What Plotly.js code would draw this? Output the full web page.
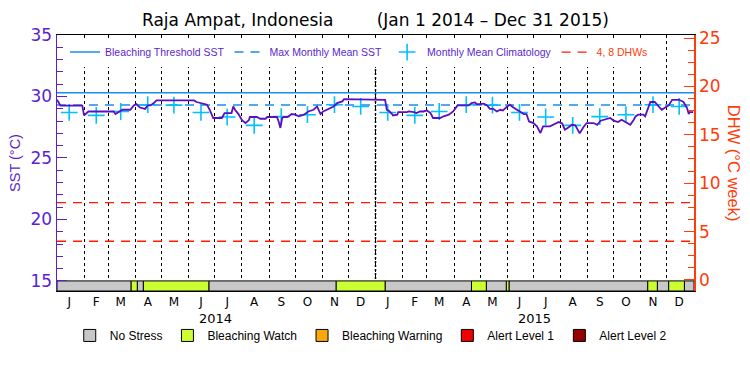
<!DOCTYPE html>
<html><head><meta charset="utf-8">
<script src="https://cdn.plot.ly/plotly-3.0.1.min.js"></script>
<style>html,body{margin:0;padding:0;background:#fff}#chart{width:750px;height:375px}</style>
</head><body><div id="chart"></div>
<script>
// ---------- DATA ----------
const monthLetters = ['J','F','M','A','M','J','J','A','S','O','N','D'];
const years = [2014, 2015];
const climatology = [28.70,28.46,28.78,29.33,29.30,28.70,28.33,27.65,28.36,28.52,29.33,29.19];
const mmm = 29.30;
const bleachingThreshold = 30.30;
const dhwLevels = [4, 8];
// day offset from 2014-01-01
const sstDay = [0,4,29,31,36,65,67,69,72,75,84,88,91,95,101,104,107,111,114,157,160,172,175,177,179,189,192,200,202,204,208,212,216,220,221,229,233,239,241,252,254,256,258,260,264,269,273,277,283,288,294,298,302,305,309,313,317,321,327,329,349,351,376,378,380,384,385,390,391,401,403,409,412,416,420,424,428,431,439,443,449,454,459,472,475,479,481,485,489,493,496,500,504,508,511,516,519,523,527,531,535,538,541,546,550,554,557,565,569,575,579,582,586,590,594,596,599,603,607,615,619,623,628,634,638,643,647,651,657,661,663,666,672,674,678,680,685,689,693,697,701,705,713,718,722,724,725,729];
const sst = [29.73,29.25,29.25,28.46,28.78,28.78,28.57,28.65,28.78,28.92,28.92,29.27,29.38,29.10,28.99,29.27,29.27,29.46,29.68,29.68,29.55,29.33,28.92,28.57,28.25,28.25,28.65,28.65,29.19,28.92,28.57,28.08,27.84,28.08,28.33,28.33,28.19,28.19,28.33,28.33,27.97,27.44,28.25,28.33,28.33,28.57,28.52,28.39,28.52,28.78,28.92,29.19,28.57,28.78,28.92,29.06,29.19,29.46,29.60,29.79,29.79,29.73,29.73,28.92,28.86,28.57,28.46,28.52,28.73,28.73,28.78,28.73,28.65,28.78,28.78,28.86,28.65,28.25,28.25,28.39,28.52,28.78,29.27,29.27,29.46,29.52,29.38,29.38,29.42,29.27,29.00,29.00,28.78,28.92,28.86,29.19,29.33,29.10,28.92,28.73,28.57,28.57,27.97,27.84,27.57,27.03,27.57,27.57,27.70,27.92,27.80,27.30,27.48,27.70,27.65,27.43,27.00,27.48,27.84,27.84,27.70,28.03,28.11,28.25,28.03,27.92,28.11,27.92,27.70,28.11,28.38,28.52,28.52,28.38,29.10,29.55,29.55,29.19,28.92,29.10,29.27,29.73,29.73,29.55,29.06,28.57,28.73,28.73];
const stressStart = ['2014-01-01','2014-03-27','2014-04-03','2014-04-10','2014-06-24','2014-11-17','2015-01-12','2015-04-21','2015-05-08','2015-05-31','2015-06-03','2015-11-09','2015-11-20','2015-12-03','2015-12-21'];
const stressLevel = [0,1,0,1,0,1,0,1,0,1,0,1,0,1,0];
const stressEnd = '2016-01-01';
const stressNames = ['No Stress','Bleaching Watch','Bleaching Warning','Alert Level 1','Alert Level 2'];
const stressColors = ['#c8c8c8','#ccff33','#f8a80c','#f00000','#960000'];

// ---------- STYLE ----------
const FONT = '"Liberation Sans", Arial, sans-serif';
const WIDE = '"DejaVu Sans", "Liberation Sans", sans-serif';
const PURPLE = '#5b1fd0';
const LINEPURPLE = '#5a10c0';
const ORANGE = '#ff3c0a';
const BLUE = '#1a8cf0';
const CYAN = '#00c0ff';
const X0 = '2014-01-01', X1 = '2016-01-01';
const SST_MIN = 14.18, SST_MAX = 35;
const DAY = 86400000;

function dayToDate(d){ return new Date(Date.UTC(2014,0,1) + d*DAY).toISOString().slice(0,10); }
const sstDates = sstDay.map(dayToDate);

const midMonths = [], monthText = [], monthStarts = [];
years.forEach(y => monthLetters.forEach((m,i) => {
  const mm = String(i+1).padStart(2,'0');
  midMonths.push(`${y}-${mm}-15`);
  monthText.push(m);
  monthStarts.push(`${y}-${mm}-01`);
}));
const climDates = midMonths;
const climVals = years.flatMap(() => climatology);

const traces = [];
// stress bars
const ends = stressStart.slice(1).concat([stressEnd]);
stressNames.forEach((name, k) => {
  const xs = [], ws = [];
  stressStart.forEach((s, i) => {
    if (stressLevel[i] === k) { xs.push(s); ws.push(Date.parse(ends[i]) - Date.parse(s)); }
  });
  const empty = xs.length === 0;
  traces.push({
    type:'bar', x: empty ? [X0] : xs, y: empty ? [null] : xs.map(() => 15 - SST_MIN),
    base: SST_MIN, width: empty ? [0] : ws, offset: 0,
    marker:{color: stressColors[k], line:{color:'#000', width:1}},
    name: name, legend:'legend2', hoverinfo:'skip', xaxis:'x', yaxis:'y'
  });
});
traces.push({type:'scatter', mode:'lines', x:[X0,X1], y:[bleachingThreshold,bleachingThreshold],
  line:{color:BLUE, width:1.5}, name:'Bleaching Threshold SST', legend:'legend'});
traces.push({type:'scatter', mode:'lines', x:[X0,X1], y:[mmm,mmm],
  line:{color:BLUE, width:1.5, dash:'9px,7px'}, name:'Max Monthly Mean SST', legend:'legend'});
traces.push({type:'scatter', mode:'markers', x:climDates, y:climVals,
  marker:{symbol:'cross-thin', size:12, line:{color:CYAN, width:1.6}, color:CYAN},
  name:'Monthly Mean Climatology', legend:'legend'});
const dx = [], dy = [];
dhwLevels.forEach(l => { dx.push(X0, X1, null); dy.push(l, l, null); });
traces.push({type:'scatter', mode:'lines', x:dx, y:dy, yaxis:'y2',
  line:{color:'#ff1a00', width:1.3, dash:'9px,7px'}, connectgaps:false,
  name:'<span style="color:#ff3c0a">4, 8 DHWs</span>', legend:'legend'});
traces.push({type:'scatter', mode:'lines', x:sstDates, y:sst,
  line:{color:LINEPURPLE, width:1.8}, name:'SST', showlegend:false});

const layout = {
  width:750, height:375,
  margin:{l:57, r:56, t:35, b:84},
  paper_bgcolor:'#fff', plot_bgcolor:'#fff',
  font:{family:FONT, size:13, color:'#000'},
  title:{text:'Raja Ampat, Indonesia\u00a0\u00a0\u00a0\u00a0\u00a0\u00a0\u00a0\u00a0(Jan 1 2014 \u2013 Dec 31 2015)',
    x:0.5, xref:'paper', xanchor:'center', y:0.947, yref:'container', yanchor:'middle',
    font:{family:WIDE, size:17, color:'#000'}},
  barmode:'overlay', showlegend:true,
  xaxis:{type:'date', range:[X0,X1], tickmode:'array', tickvals:midMonths, ticktext:monthText,
    ticks:'', showgrid:false, zeroline:false, showline:true, linecolor:'#000', linewidth:1, mirror:true,
    tickfont:{family:WIDE, size:12, color:'#000'}, fixedrange:true,
    minor:{tickmode:'array', tickvals:monthStarts, showgrid:true, gridcolor:'#000', griddash:'dot', gridwidth:1, ticks:''}},
  yaxis:{range:[SST_MIN,SST_MAX], tick0:15, dtick:5, ticks:'inside', ticklen:10, tickwidth:1, tickcolor:PURPLE,
    showline:true, linecolor:PURPLE, linewidth:1.5, showgrid:false, zeroline:false,
    tickfont:{family:WIDE, size:17, color:PURPLE},
    minor:{tick0:15, dtick:1, ticks:'inside', ticklen:6, tickcolor:PURPLE},
    title:{text:'SST (\u00b0C)', font:{family:FONT, size:14.5, color:PURPLE}, standoff:6}},
  yaxis2:{overlaying:'y', side:'right', range:[-1.14,25.31], tick0:0, dtick:5, ticks:'inside', ticklen:10,
    tickcolor:ORANGE, showline:true, linecolor:ORANGE, linewidth:1.5, showgrid:false, zeroline:false,
    tickfont:{family:WIDE, size:17, color:ORANGE},
    minor:{tick0:0, dtick:1.25, ticks:'inside', ticklen:6, tickcolor:ORANGE}},
  legend:{orientation:'h', x:0.0126, xanchor:'left', y:0.99, yanchor:'top', bgcolor:'#fff',
    font:{family:FONT, size:10.5, color:PURPLE}, itemwidth:30, traceorder:'normal'},
  legend2:{orientation:'h', x:0.02, xanchor:'left', y:-0.117, yanchor:'top', bgcolor:'rgba(0,0,0,0)',
    font:{family:FONT, size:12, color:'#000'}, itemwidth:30, traceorder:'normal'},
  annotations: years.map(y => ({text:String(y), x:`${y}-07-02`, xref:'x', y:-0.07, yref:'paper',
      showarrow:false, yanchor:'top', font:{family:WIDE, size:13, color:'#000'}}))
    .concat([{text:'DHW (\u00b0C week)', textangle:90, x:1.063, xref:'paper', y:0.5, yref:'paper',
      showarrow:false, xanchor:'center', yanchor:'middle', font:{family:FONT, size:16.5, color:ORANGE}}]),
  shapes: years.slice(1).map(y => ({type:'line', xref:'x', yref:'paper', x0:`${y}-01-01`, x1:`${y}-01-01`,
      y0:0, y1:0.89, layer:'below', line:{color:'#000', width:1.5, dash:'2px,2px'}}))
};
Plotly.newPlot('chart', traces, layout, {displayModeBar:false, staticPlot:true});
</script></body></html>
